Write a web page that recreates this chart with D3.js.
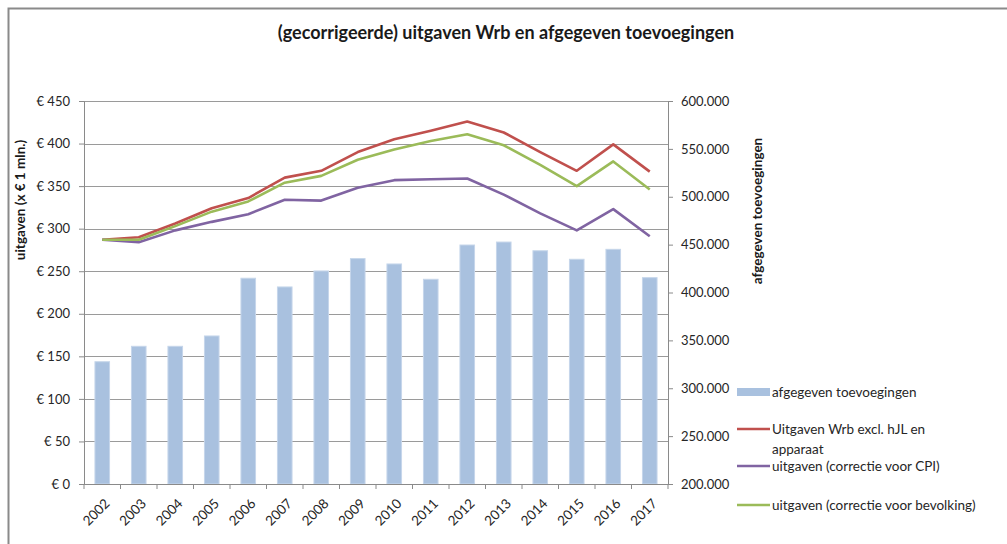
<!DOCTYPE html>
<html>
<head>
<meta charset="utf-8">
<script src="https://cdn.jsdelivr.net/npm/d3@7"></script>
<style>
  body { margin: 0; background: #fff; }
  svg { font-family: Lato, "Open Sans", sans-serif; }
</style>
</head>
<body>
<svg id="chart" width="1007" height="544"></svg>
<script>
const years = ["2002", "2003", "2004", "2005", "2006", "2007", "2008", "2009",
  "2010", "2011", "2012", "2013", "2014", "2015", "2016", "2017"];
// afgegeven toevoegingen (right axis)
const toevoegingen = [327700, 343800, 343800, 354600, 414900, 405800, 422500, 435400,
  429800, 413800, 449600, 452700, 443600, 434700, 445100, 415500];
// uitgaven in € mln (left axis)
const uitgavenWrb = [287, 290, 306, 324, 336, 360, 368, 390, 405, 415, 426, 413, 390, 368, 399, 367];
const uitgavenCPI = [287, 284, 298, 308, 317, 334, 333, 348, 357, 358, 359, 340, 318, 298, 323, 291];
const uitgavenBevolking = [287, 287, 303, 320, 332, 354, 362, 381, 393, 403, 411, 398, 375, 350, 379, 346];

const leftTicks = [0, 50, 100, 150, 200, 250, 300, 350, 400, 450];
const rightTicks = [200000, 250000, 300000, 350000, 400000, 450000, 500000, 550000, 600000];

const lineSeries = [
  { name: "Uitgaven Wrb excl. hJL en|apparaat", values: uitgavenWrb, color: "#c0504d" },
  { name: "uitgaven (correctie voor CPI)", values: uitgavenCPI, color: "#8064a2" },
  { name: "uitgaven (correctie voor bevolking)", values: uitgavenBevolking, color: "#9bbb59" }
];

const svg = d3.select("#chart");
const plot = { left: 84, right: 668, top: 101, bottom: 484 };

// outer frame
svg.append("rect")
  .attr("x", 8.5).attr("y", 8.5).attr("width", 1200).attr("height", 800)
  .attr("fill", "none").attr("stroke", "#8a8a8a").attr("stroke-width", 2);

svg.append("text")
  .attr("x", 506).attr("y", 39)
  .attr("text-anchor", "middle")
  .attr("font-size", 18).attr("font-weight", "bold").attr("fill", "#1a1a1a")
  .text("(gecorrigeerde) uitgaven Wrb en afgegeven toevoegingen");

const x = d3.scaleBand().domain(years).range([plot.left, plot.right]);
const yL = d3.scaleLinear().domain([0, 450]).range([plot.bottom, plot.top]);
const yR = d3.scaleLinear().domain([200000, 600000]).range([plot.bottom, plot.top]);

// gridlines
svg.append("g").selectAll("line").data(leftTicks).join("line")
  .attr("x1", plot.left).attr("x2", plot.right)
  .attr("y1", d => Math.round(yL(d)) + 0.5).attr("y2", d => Math.round(yL(d)) + 0.5)
  .attr("stroke", "#9a9a9a").attr("stroke-width", 1.2);

// bars
const bw = x.bandwidth() * 0.4;
svg.append("g").selectAll("rect").data(years).join("rect")
  .attr("x", d => x(d) + (x.bandwidth() - bw) / 2)
  .attr("width", bw)
  .attr("y", (d, i) => yR(toevoegingen[i]))
  .attr("height", (d, i) => plot.bottom - yR(toevoegingen[i]))
  .attr("fill", "#a9c1df").attr("stroke", "#c6d6ea").attr("stroke-width", 1);

// lines
const line = d3.line()
  .x((d, i) => x(years[i]) + x.bandwidth() / 2)
  .y(d => yL(d));
svg.append("g").selectAll("path").data(lineSeries).join("path")
  .attr("d", d => line(d.values))
  .attr("fill", "none").attr("stroke", d => d.color).attr("stroke-width", 2.6)
  .attr("stroke-linejoin", "round");

// left axis
const axL = svg.append("g").attr("transform", `translate(${plot.left},0)`)
  .call(d3.axisLeft(yL).tickValues(leftTicks).tickSize(5).tickPadding(9)
    .tickFormat(d => "€ " + d));
// right axis
const axR = svg.append("g").attr("transform", `translate(${plot.right},0)`)
  .call(d3.axisRight(yR).tickValues(rightTicks).tickSize(5).tickPadding(8)
    .tickFormat(d => d3.format(",")(d).replace(/,/g, ".")));
// bottom axis
const axB = svg.append("g").attr("transform", `translate(0,${plot.bottom})`)
  .call(d3.axisBottom(x).tickSize(0).tickPadding(8));
axB.selectAll(".tick text")
  .attr("x", 0).attr("y", 0)
  .attr("text-anchor", "end")
  .attr("transform", "translate(5,17) rotate(-45)")
  .attr("dy", "0.35em");
axB.selectAll(".bt").data(d3.range(years.length + 1)).join("line")
  .attr("class", "bt")
  .attr("x1", i => plot.left + i * x.step()).attr("x2", i => plot.left + i * x.step())
  .attr("y1", 0).attr("y2", 5).attr("stroke", "#8a8a8a");

[axL, axR, axB].forEach(a => {
  a.selectAll(".domain").attr("stroke", "#8a8a8a");
  a.selectAll(".tick line").attr("stroke", "#8a8a8a");
  a.selectAll(".tick text").attr("font-size", 13).attr("fill", "#262626")
    .attr("font-family", "Lato, sans-serif");
});
axB.selectAll(".tick text").attr("font-size", 13.5);
axB.select(".domain").attr("d", `M${plot.left},0.5H${plot.right}`);

// axis titles
svg.append("text")
  .attr("transform", "translate(25,200) rotate(-90)")
  .attr("text-anchor", "middle").attr("font-size", 13.5).attr("font-weight", "bold")
  .attr("fill", "#1a1a1a")
  .text("uitgaven (x € 1 mln.)");
svg.append("text")
  .attr("transform", "translate(762,211) rotate(-90)")
  .attr("text-anchor", "middle").attr("font-size", 13.5).attr("font-weight", "bold")
  .attr("fill", "#1a1a1a")
  .text("afgegeven toevoegingen");

// legend
const leg = svg.append("g").attr("font-size", 13.5).attr("fill", "#262626");
leg.append("rect").attr("x", 737).attr("y", 388).attr("width", 33).attr("height", 8)
  .attr("fill", "#a9c1df");
leg.append("text").attr("x", 772).attr("y", 392).attr("dy", "0.35em").text("afgegeven toevoegingen");
const legY = [429, 466, 505];
lineSeries.forEach((s, i) => {
  leg.append("line").attr("x1", 737).attr("x2", 770)
    .attr("y1", legY[i]).attr("y2", legY[i])
    .attr("stroke", s.color).attr("stroke-width", 2.6);
  s.name.split("|").forEach((t, j) => {
    leg.append("text").attr("x", 772).attr("y", legY[i] + j * 20)
      .attr("dy", "0.35em").text(t);
  });
});
</script>
</body>
</html>
